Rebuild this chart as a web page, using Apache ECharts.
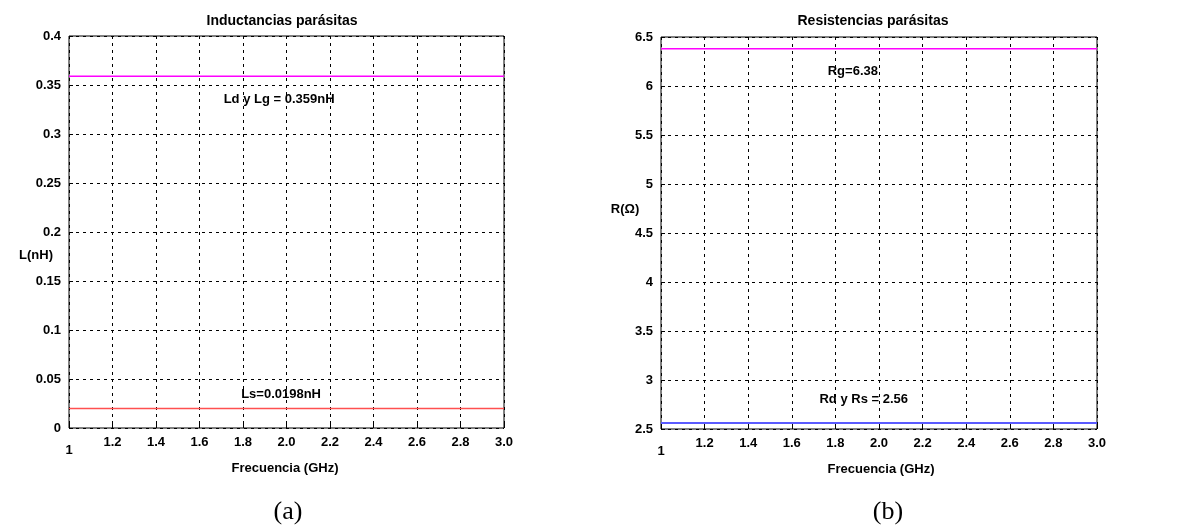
<!DOCTYPE html>
<html><head><meta charset="utf-8">
<script src="https://cdn.jsdelivr.net/npm/echarts@6/dist/echarts.min.js"></script>
<style>html,body{margin:0;padding:0;background:#fff}#c{width:1186px;height:527px}</style>
</head><body><div id="c"></div>
<script>
// ---- data ----
const freqRange = [1, 3];
const xTickLabels = ['1','1.2','1.4','1.6','1.8','2.0','2.2','2.4','2.6','2.8','3.0'];
const lTickLabels = ['0','0.05','0.1','0.15','0.2','0.25','0.3','0.35','0.4'];
const rTickLabels = ['2.5','3','3.5','4','4.5','5','5.5','6','6.5'];
const LdLg = [0.359, 0.359];
const Ls = [0.0198, 0.0198];
const Rg = [6.38, 6.38];
const RdRs = [2.56, 2.56];
const annL = [['Ld y Lg = 0.359nH', 1.966, 0.335], ['Ls=0.0198nH', 1.975, 0.0347]];
const annR = [['Rg=6.38', 1.88, 6.15], ['Rd y Rs = 2.56', 1.93, 2.80]];

const FONT = '"Liberation Sans Narrow","Liberation Sans",Arial,sans-serif';
const chart = echarts.init(document.getElementById('c'), null, {renderer:'canvas'});

function pts(xs, ys){ return xs.map((x,i)=>[x, ys[i]]); }
function xAxis(gi){
  return {
    type:'value', gridIndex:gi, min:1, max:3, interval:0.2,
    axisLine:{show:false}, axisTick:{show:true, inside:true, length:4, lineStyle:{color:'#000'}},
    splitLine:{show:true, lineStyle:{color:'#000', type:[3,4], width:1}},
    axisLabel:{color:'#000', fontFamily:FONT, fontWeight:'bold', fontSize:13, margin:8,
      formatter:(v)=>{const i=Math.round((v-1)/0.2); return i===0?'{a|'+xTickLabels[i]+'}':xTickLabels[i];},
      rich:{a:{fontFamily:FONT, fontWeight:'bold', fontSize:13, color:'#000', padding:[8,0,0,0]}}}
  };
}
function yAxis(gi, min, max, iv, labels){
  return {
    type:'value', gridIndex:gi, min:min, max:max, interval:iv,
    axisLine:{show:false}, axisTick:{show:true, inside:true, length:4, lineStyle:{color:'#000'}},
    splitLine:{show:true, lineStyle:{color:'#000', type:[3,4], width:1}},
    axisLabel:{color:'#000', fontFamily:FONT, fontWeight:'bold', fontSize:13, margin:8,
      formatter:(v)=>labels[Math.round((v-min)/iv)]}
  };
}
function ann(list, xi, yi){
  return {type:'scatter', xAxisIndex:xi, yAxisIndex:yi, symbolSize:0, silent:true,
    itemStyle:{opacity:1},
    data:list.map(a=>({value:[a[1],a[2]], name:a[0]})),
    label:{show:true, position:'inside', formatter:p=>p.name, color:'#000', opacity:1, textBorderWidth:0,
      fontFamily:FONT, fontWeight:'bold', fontSize:13}};
}
function txt(text, left, top, opts){
  return Object.assign({text:text, left:left, top:top, textAlign:'center',
    textStyle:{color:'#000', fontFamily:FONT, fontWeight:'bold', fontSize:13}}, opts||{});
}
const capStyle = {textStyle:{color:'#000', fontFamily:'"Liberation Serif","Times New Roman",serif', fontSize:26, fontWeight:'normal'}};

chart.setOption({
  animation:false,
  title:[
    txt('Inductancias parásitas', 277, 9, {textStyle:{color:'#000', fontFamily:FONT, fontWeight:'bold', fontSize:14}}),
    txt('Resistencias parásitas', 868, 9, {textStyle:{color:'#000', fontFamily:FONT, fontWeight:'bold', fontSize:14}}),
    txt('Frecuencia (GHz)', 280, 457),
    txt('Frecuencia (GHz)', 876, 458),
    txt('L(nH)', 31, 244),
    txt('R(Ω)', 620, 198),
    txt('(a)', 283, 494, capStyle),
    txt('(b)', 883, 494, capStyle)
  ],
  grid:[
    {left:69, top:36, width:435, height:392, show:true, borderColor:'#000', borderWidth:1, backgroundColor:'#fff'},
    {left:661, top:37, width:436, height:392, show:true, borderColor:'#000', borderWidth:1, backgroundColor:'#fff'}
  ],
  xAxis:[xAxis(0), xAxis(1)],
  yAxis:[yAxis(0,0,0.4,0.05,lTickLabels), yAxis(1,2.5,6.5,0.5,rTickLabels)],
  series:[
    {type:'line', xAxisIndex:0, yAxisIndex:0, data:pts(freqRange, LdLg), symbol:'none', lineStyle:{color:'#ff00ff', width:1.5}},
    {type:'line', xAxisIndex:0, yAxisIndex:0, data:pts(freqRange, Ls), symbol:'none', lineStyle:{color:'#ff5050', width:1.5}},
    {type:'line', xAxisIndex:1, yAxisIndex:1, data:pts(freqRange, Rg), symbol:'none', lineStyle:{color:'#ff00ff', width:1.5}},
    {type:'line', xAxisIndex:1, yAxisIndex:1, data:pts(freqRange, RdRs), symbol:'none', lineStyle:{color:'#5a5aff', width:2}},
    ann(annL, 0, 0),
    ann(annR, 1, 1)
  ]
});
</script></body></html>
